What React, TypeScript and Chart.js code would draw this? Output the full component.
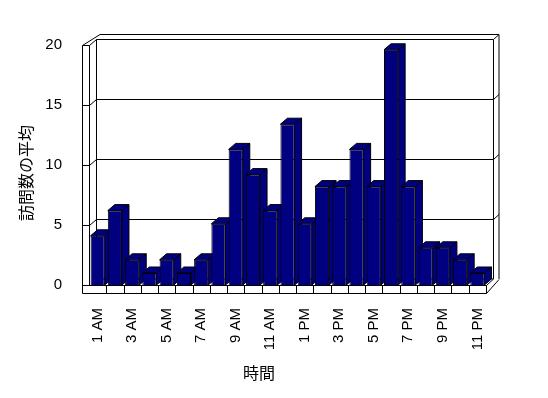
import React, { useEffect, useRef } from 'react';
import { Chart, registerables } from 'chart.js';

Chart.register(...registerables);

// ---- data ----
const hours: string[] = [
  '1 AM', '2 AM', '3 AM', '4 AM', '5 AM', '6 AM', '7 AM', '8 AM', '9 AM', '10 AM', '11 AM', '12 PM',
  '1 PM', '2 PM', '3 PM', '4 PM', '5 PM', '6 PM', '7 PM', '8 PM', '9 PM', '10 PM', '11 PM',
];
const avgVisits: number[] = [
  4.1, 6.2, 2.1, 1.0, 2.1, 1.0, 2.1, 5.1, 11.3, 9.2, 6.2, 13.4,
  5.1, 8.2, 8.2, 11.3, 8.2, 19.6, 8.2, 3.1, 3.1, 2.1, 1.0,
];
const yTickValues: number[] = [0, 5, 10, 15, 20];
const xTitle = '時間';
const yTitle = '訪問数の平均';

const NAVY = '#000080';
const DEPTH_X = 7;
const DEPTH_Y = -6.5;

const px = (v: number) => Math.round(v) + 0.5;

function poly(ctx: CanvasRenderingContext2D, pts: number[][], fill?: string) {
  ctx.beginPath();
  pts.forEach(([x, y], i) => (i ? ctx.lineTo(x, y) : ctx.moveTo(x, y)));
  if (fill) {
    ctx.closePath();
    ctx.fillStyle = fill;
    ctx.fill();
  }
  ctx.stroke();
}

const depthPlugin = {
  id: 'depth3d',
  beforeDatasetsDraw(chart: any) {
    const { ctx, chartArea: a, scales } = chart;
    const ys = scales.y;
    const xs = scales.x;
    const L = px(a.left), R = px(a.right), T = a.top, B = px(a.bottom);
    const dx = DEPTH_X, dy = DEPTH_Y;
    const wallT = 7; // left wall thickness
    const floorT = 8; // floor thickness
    const backX = 5.5, backY = -5; // back wall thickness
    const OL = L - wallT;
    const BL = L + dx, BR = R + dx;
    const topB = px(T + dy);
    const botB = B + dy;
    ctx.save();
    ctx.strokeStyle = '#000';
    ctx.lineWidth = 1;
    // outer frame
    poly(ctx, [[OL, px(T)], [OL, B + floorT]]);
    poly(ctx, [[L, px(T)], [L, B]]);
    poly(ctx, [[OL, px(T)], [L, px(T)]]);
    poly(ctx, [[OL, px(T)], [BL + backX - 2, topB + backY]]);
    poly(ctx, [[L, px(T)], [BL, topB]]);
    poly(ctx, [[BL + backX - 2, topB + backY], [BR + backX, topB + backY]]);
    poly(ctx, [[BL, topB], [BR, topB]]);
    poly(ctx, [[BL, topB], [BL, botB]]);
    poly(ctx, [[BR, topB], [BR, botB]]);
    poly(ctx, [[BR, topB], [BR + backX, topB + backY]]);
    poly(ctx, [[BR + backX, topB + backY], [BR + backX, botB + backY + 5]]);
    // floor
    poly(ctx, [[OL, B], [R, B]]);
    poly(ctx, [[OL, B + floorT], [R, B + floorT]]);
    poly(ctx, [[R, B], [R, B + floorT]]);
    poly(ctx, [[R, B + floorT], [BR + backX, B + floorT - 14]]);
    poly(ctx, [[R, B], [BR, botB]]);
    poly(ctx, [[BL, botB], [BR, botB]]);
    // category divisions on floor front face
    const n = hours.length;
    const w = (a.right - a.left) / n;
    for (let k = 1; k < n; k++) {
      const x = px(xs.left + k * w);
      poly(ctx, [[x, B], [x, B + floorT]]);
    }
    // gridlines
    yTickValues.forEach((v) => {
      if (v === 0 || v === 20) return;
      const y = px(ys.getPixelForValue(v));
      const yb = px(ys.getPixelForValue(v) + dy);
      poly(ctx, [[OL, y], [L, y]]);
      poly(ctx, [[L, y], [BL, yb]]);
      poly(ctx, [[BL, yb], [BR, yb]]);
      poly(ctx, [[BR, yb], [BR + backX, yb + backY]]);
    });
    // bar sides and tops
    const meta = chart.getDatasetMeta(0);
    const bdx = 7, bdy = -6;
    meta.data.forEach((bar: any) => {
      const { x, y, base, width } = bar.getProps(['x', 'y', 'base', 'width'], true);
      const l = x - width / 2, r = x + width / 2;
      poly(ctx, [[r, y], [r + bdx, y + bdy], [r + bdx, base + bdy], [r, base]], NAVY);
      poly(ctx, [[l, y], [l + bdx, y + bdy], [r + bdx, y + bdy], [r, y]], NAVY);
    });
    ctx.restore();
  },
};

const titlePlugin = {
  id: 'axisTitles3d',
  afterDraw(chart: any) {
    const { ctx, chartArea: a } = chart;
    ctx.save();
    ctx.fillStyle = '#000';
    ctx.font = '16px "Noto Sans CJK JP", sans-serif';
    ctx.textAlign = 'center';
    ctx.textBaseline = 'middle';
    ctx.fillText(xTitle, a.left + 170, a.bottom + 88);
    ctx.translate(26, (a.top + a.bottom) / 2 + 8);
    ctx.rotate(-Math.PI / 2);
    ctx.fillText(yTitle, 0, 0);
    ctx.restore();
  },
};

export default function App() {
  const ref = useRef<HTMLCanvasElement | null>(null);
  useEffect(() => {
    if (!ref.current) return;
    const tickFont = { family: '"Liberation Sans", Arial, sans-serif', size: 15 };
    const chart = new Chart(ref.current, {
      type: 'bar',
      data: {
        labels: hours,
        datasets: [
          {
            data: avgVisits,
            backgroundColor: NAVY,
            borderColor: '#000',
            borderWidth: 1,
            categoryPercentage: 1,
            barPercentage: 0.82,
          },
        ],
      },
      options: {
        animation: false,
        responsive: true,
        maintainAspectRatio: false,
        layout: { padding: { left: 0, top: 45, right: 62, bottom: 0 } },
        plugins: { legend: { display: false }, tooltip: { enabled: false } },
        scales: {
          x: {
            grid: { display: false, drawTicks: false },
            border: { display: false },
            ticks: {
              autoSkip: false,
              minRotation: 90,
              maxRotation: 90,
              padding: 23,
              color: '#000',
              font: tickFont,
              callback: (_v: any, i: number) => (i % 2 === 0 ? hours[i] : ''),
            },
            afterFit: (s: any) => {
              s.height = 113;
            },
          },
          y: {
            min: 0,
            max: 20,
            grid: { display: false, drawTicks: false },
            border: { display: false },
            afterBuildTicks: (s: any) => {
              s.ticks = yTickValues.map((v) => ({ value: v }));
            },
            ticks: { padding: 27, color: '#000', font: tickFont },
            afterFit: (s: any) => {
              s.width = 89;
            },
          },
        },
      },
      plugins: [depthPlugin, titlePlugin],
    });
    return () => chart.destroy();
  }, []);
  return (
    <div style={{ position: 'fixed', left: 0, top: 0, width: 548, height: 398, background: '#fff' }}>
      <canvas ref={ref} />
    </div>
  );
}
